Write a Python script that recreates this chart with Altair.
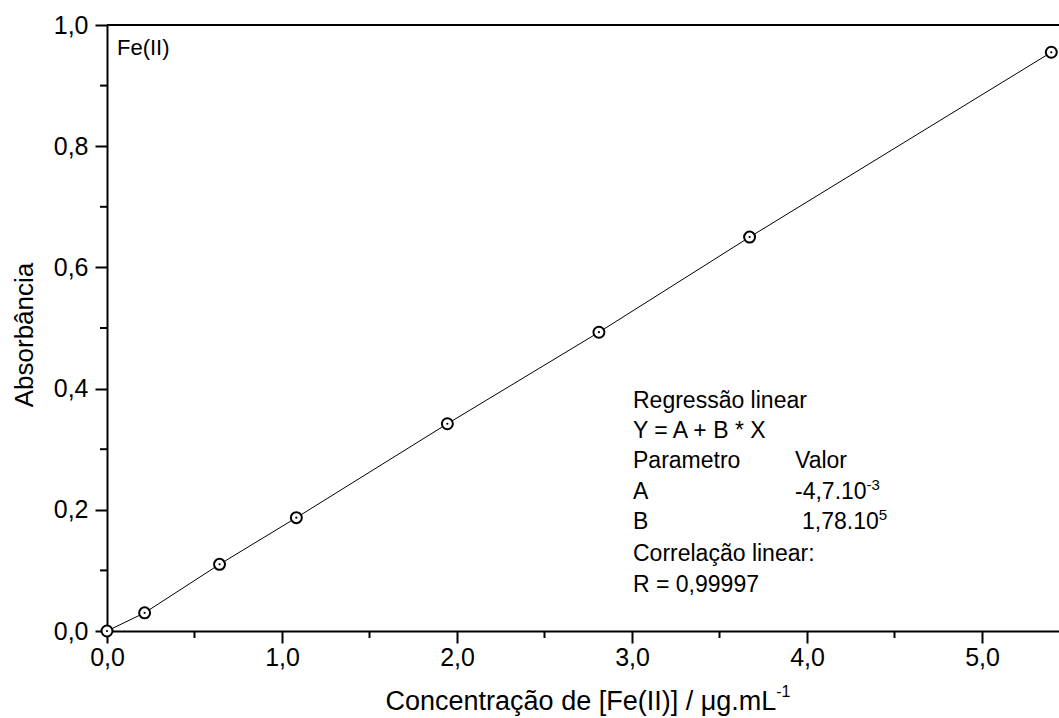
import altair as alt
import pandas as pd

# Fe(II) calibration standards: concentration (ug/mL) vs absorbance
concentracao = [0.0, 0.215, 0.643, 1.082, 1.945, 2.811, 3.672, 5.396]
absorbancia = [0.0, 0.030, 0.110, 0.187, 0.342, 0.493, 0.650, 0.955]

x_major = [0, 1, 2, 3, 4, 5]
x_minor = [0.5, 1.5, 2.5, 3.5, 4.5]
y_major = [0.0, 0.2, 0.4, 0.6, 0.8, 1.0]
y_minor = [0.1, 0.3, 0.5, 0.7, 0.9]

W, H = 952, 606
FONT = "Liberation Sans"
one = pd.DataFrame({"k": [0]})

df = pd.DataFrame({"conc": concentracao, "abs": absorbancia})

xscale = alt.Scale(domain=[0, 5.44], nice=False, zero=False)
yscale = alt.Scale(domain=[0, 1.0], nice=False, zero=False)
label_expr = "replace(format(datum.value, '.1f'), '.', ',')"

common_axis = dict(
    labelExpr=label_expr, title=None, grid=False, tickSize=12, tickWidth=2,
    domainWidth=2, domainColor="black", tickColor="black", labelColor="black",
    labelFont=FONT, labelFontSize=25, labelFlush=False, labelOverlap=False,
    labelBound=False,
)
x_axis = alt.Axis(values=x_major, labelPadding=2, **common_axis)
y_axis = alt.Axis(values=y_major, labelPadding=7, **common_axis)

line = alt.Chart(df).mark_line(color="black", strokeWidth=1).encode(
    x=alt.X("conc:Q", scale=xscale, axis=x_axis),
    y=alt.Y("abs:Q", scale=yscale, axis=y_axis),
)
circles = alt.Chart(df).mark_point(
    shape="circle", size=120, filled=True, fill="white", stroke="black",
    strokeWidth=2, opacity=1,
).encode(x="conc:Q", y="abs:Q")
dots = alt.Chart(df).mark_point(
    shape="circle", size=5, filled=True, color="black", opacity=1
).encode(x="conc:Q", y="abs:Q")

minor_x = alt.Chart(pd.DataFrame({"m": x_minor})).mark_rule(
    color="black", strokeWidth=2
).encode(x="m:Q", y=alt.value(H), y2=alt.value(H + 7))
minor_y = alt.Chart(pd.DataFrame({"m": y_minor})).mark_rule(
    color="black", strokeWidth=2
).encode(y="m:Q", x=alt.value(-7), x2=alt.value(0))

top_line = alt.Chart(one).mark_rule(color="black", strokeWidth=2).encode(
    x=alt.value(0), x2=alt.value(W), y=alt.value(0)
)


def label(text, x, y, size, align="left", angle=0):
    return alt.Chart(one).mark_text(
        text=text, font=FONT, fontSize=size, color="black", align=align,
        baseline="alphabetic", angle=angle,
    ).encode(x=alt.value(x), y=alt.value(y))


ANN = 23
SUP = 15
ax = 526
vx = 688
texts = [
    label("Fe(II)", 10, 30, 22),
    label("Regressão linear", ax, 383, ANN),
    label("Y = A + B * X", ax, 413, ANN),
    label("Parametro", ax, 443, ANN),
    label("Valor", vx, 443, ANN),
    label("A", ax, 474, ANN),
    label("-4,7.10", vx, 474, ANN),
    label("-3", vx + 3.113 * ANN, 465, SUP),
    label("B", ax, 504, ANN),
    label("1,78.10", vx + 7, 504, ANN),
    label("5", vx + 7 + 3.336 * ANN, 495, SUP),
    label("Correlação linear:", ax, 536, ANN),
    label("R = 0,99997", ax, 567, ANN),
]

# axis titles (x title carries a superscript unit exponent)
TF = 27
TSUP = 16
main_title = "Concentração de [Fe(II)] / μg.mL"
main_w = 14.471 * TF
sup_w = 0.889 * TSUP
title_left = 481 - (main_w + sup_w) / 2
texts += [
    label(main_title, title_left, 685, TF),
    label("-1", title_left + main_w, 672, TSUP),
    label("Absorbância", -74, 310, 26, align="center", angle=270),
]

chart = alt.layer(
    line, circles, dots, minor_x, minor_y, top_line, *texts
).properties(
    width=W, height=H,
    autosize=alt.AutoSizeParams(type="none"),
    padding={"left": 107, "top": 25, "right": 0, "bottom": 87},
).configure_view(stroke=None).configure(background="white")

chart.save("out.html", embed_options={"renderer": "svg", "actions": False})
